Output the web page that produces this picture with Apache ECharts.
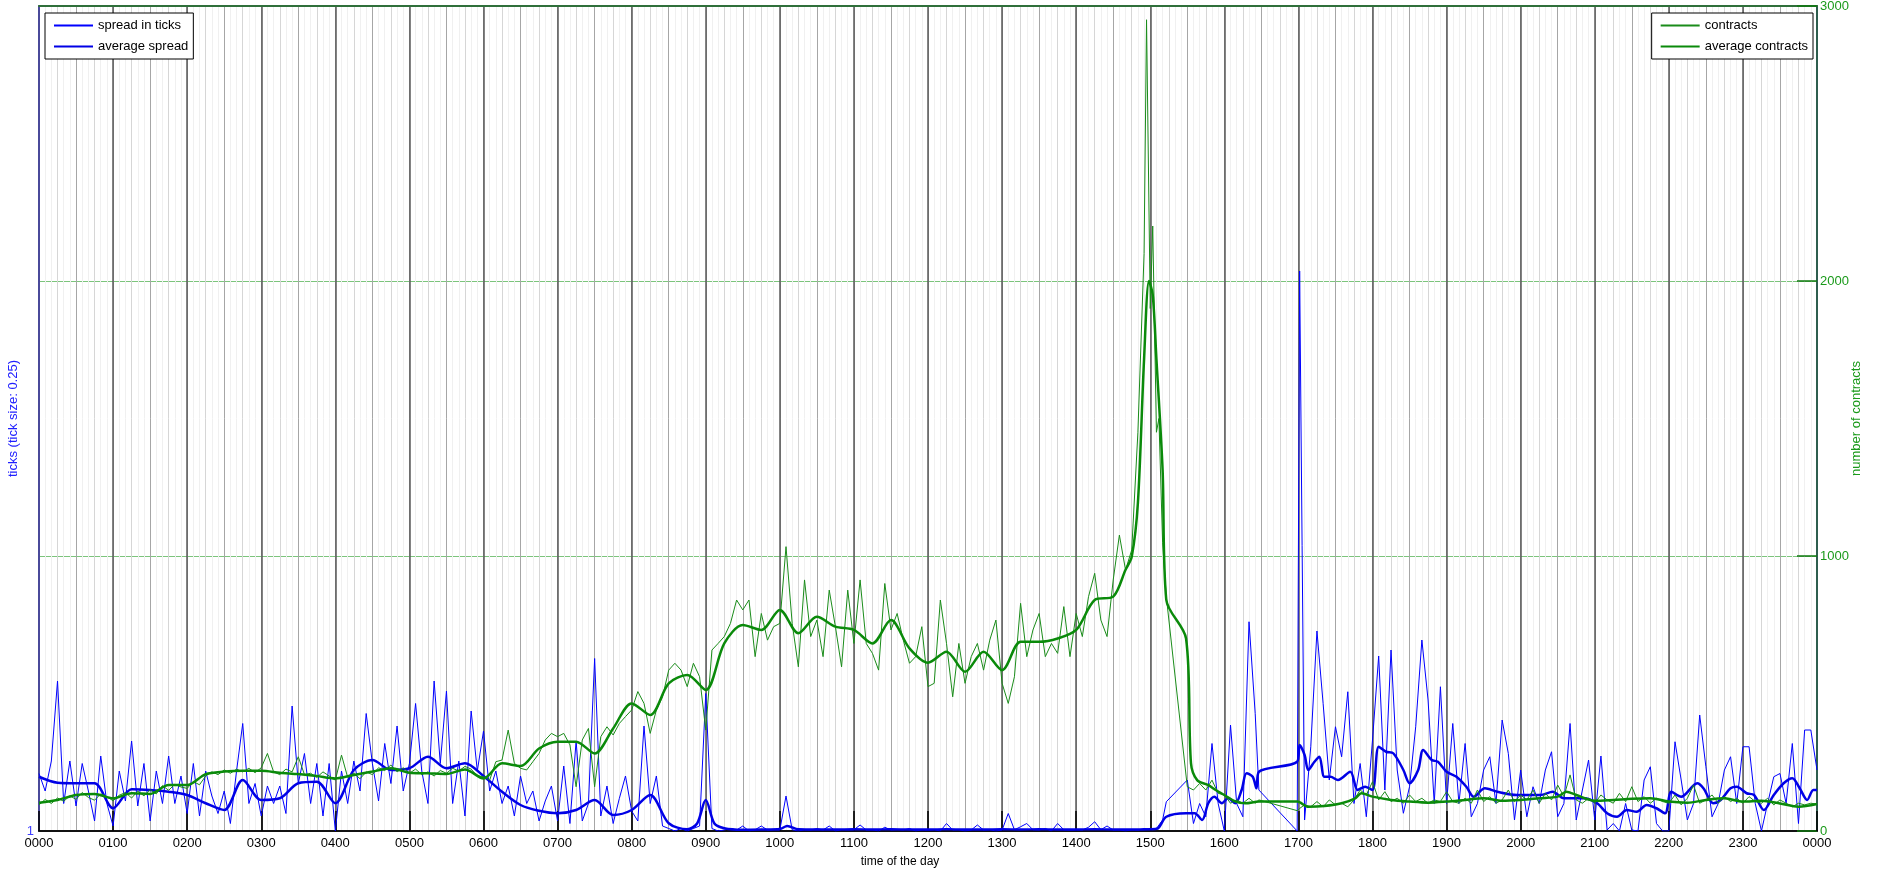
<!DOCTYPE html>
<html>
<head>
<meta charset="utf-8">
<title>spread and contracts over the day</title>
<script src="https://cdn.jsdelivr.net/npm/echarts@6/dist/echarts.min.js"></script>
<style>
  html, body { margin: 0; padding: 0; background: #fff; }
  #chart { width: 1877px; height: 874px; }
</style>
</head>
<body>
<div id="chart"></div>
<script>
// time axis runs in minutes after midnight, one label per hour
const hourLabels = ['0000', '0100', '0200', '0300', '0400', '0500', '0600', '0700', '0800', '0900',
  '1000', '1100', '1200', '1300', '1400', '1500', '1600', '1700', '1800', '1900',
  '2000', '2100', '2200', '2300', '0000'];

// spread in ticks, one row per hour, one value every 5 minutes (null = no data)
const spreadRows = [
  [3.3, 2.6, 3.8, 7.0, 2.1, 3.8, 2.0, 3.7, 2.6, 1.4, 4.0, 2.1],
  [1.2, 3.4, 2.2, 4.6, 2.0, 3.7, 1.4, 3.4, 2.1, 4.0, 2.1, 3.2],
  [1.7, 3.7, 1.6, 3.4, 2.4, 1.7, 2.6, 1.3, 3.4, 5.3, 2.1, 2.9],
  [1.6, 2.8, 2.1, 2.8, 1.7, 6.0, 2.9, 4.1, 2.1, 3.7, 1.6, 3.7],
  [1.0, 3.4, 2.1, 3.8, 2.6, 5.7, 3.7, 2.2, 4.5, 2.9, 5.2, 2.6],
  [3.7, 6.1, 3.4, 2.1, 7.0, 3.7, 6.6, 2.1, 3.8, 1.6, 5.8, 3.4],
  [5.0, 2.6, 3.4, 2.1, 2.8, 1.6, 3.2, 2.1, 2.6, 1.4, 2.2, 2.8],
  [1.4, 3.6, 1.3, 4.6, 1.4, 2.1, 7.9, 1.6, 2.8, 1.3, 2.3, 3.2],
  [1.8, 1.4, 5.2, 2.1, 3.2, 1.2, 1.1, 1.0, 1.1, 1.0, 1.1, 1.2],
  [6.5, 1.1, 1.0, 1.04, 1.1, 1.04, 1.2, 1.0, 1.05, 1.2, 1.04, 1.05],
  [1.04, 2.4, 1.05, 1.0, 1.05, 1.04, 1.1, 1.04, 1.2, 1.0, 1.05, 1.04],
  [1.05, 1.24, 1.04, 1.05, 1.0, 1.15, 1.04, 1.05, 1.04, 1.1, 1.0, 1.05],
  [1.04, 1.05, 1.0, 1.3, 1.04, 1.05, 1.0, 1.04, 1.24, 1.04, 1.05, 1.0],
  [1.04, 1.7, 1.05, 1.17, 1.3, 1.05, 1.04, 1.1, 1.0, 1.3, 1.05, 1.04],
  [1.05, 1.04, 1.15, 1.37, 1.05, 1.2, 1.04, 1.05, 1.0, 1.05, 1.04, 1.1],
  [1.07, 1.1, 1.44, null, null, null, 3.04, 1.3, 2.1, 1.57, 4.5, 2.1],
  [1.0, 5.24, 2.1, 1.57, 9.37, 5.7, null, null, null, null, null, null],
  [null, 1.44, 4.37, 9.0, 6.1, 3.04, 5.17, 3.97, 6.57, 2.1, 3.7, 1.57],
  [4.64, 8.0, 2.64, 8.24, 3.44, 1.71, 2.77, 5.17, 8.64, 6.24, 2.1, 6.77],
  [2.1, 5.3, 2.1, 4.5, 1.57, 2.1, 3.44, 3.97, 2.1, 5.44, 4.1, 1.44],
  [3.44, 1.57, 2.77, 2.1, 3.44, 4.17, 1.57, 2.1, 5.3, 1.44, 2.64, 3.84],
  [1.44, 4.0, 1.04, 1.3, 1.0, 2.1, 1.04, 1.0, 3.04, 3.57, 1.3, 1.0],
  [1.0, 4.57, 3.04, 1.44, 2.1, 5.64, 3.57, 1.57, 2.1, 3.44, 3.97, 2.1],
  [4.37, 4.37, 2.1, 1.0, 2.1, 3.17, 3.3, 2.1, 4.5, 1.3, 5.04, 5.04]
];
// readings that fall between the 5-minute slots: [minute, ticks]
const spreadExtra = [[913, 2.17], [988, 2.64], [1019, 1.0], [1021, 23.4], [1440, 3.44]];

// traded contracts, same layout
const contractRows = [
  [95, 115, 100, 120, 108, 128, 115, 140, 122, 112, 135, 125],
  [110, 130, 140, 120, 145, 128, 150, 135, 165, 148, 170, 160],
  [155, 180, 168, 200, 215, 205, 222, 210, 225, 215, 228, 212],
  [230, 282, 215, 205, 225, 215, 270, 205, 210, 195, 215, 200],
  [185, 276, 195, 210, 190, 215, 205, 230, 220, 240, 215, 230],
  [210, 225, 205, 215, 200, 220, 210, 228, 218, 235, 225, 200],
  [198, 185, 252, 258, 367, 246, 228, 222, 252, 282, 331, 355],
  [343, 355, 313, 161, 331, 373, 161, 343, 379, 349, 391, 416],
  [440, 507, 464, 355, 440, 488, 585, 610, 585, 525, 610, 561],
  [367, 658, 682, 707, 755, 840, 804, 840, 634, 791, 694, 743],
  [755, 1034, 755, 597, 913, 707, 767, 634, 876, 743, 597, 876],
  [682, 913, 682, 646, 585, 900, 731, 791, 694, 610, 634, 743],
  [525, 537, 840, 682, 488, 682, 537, 634, 682, 585, 694, 767],
  [537, 464, 561, 828, 634, 731, 791, 634, 682, 646, 816, 634],
  [791, 707, 852, 937, 767, 707, 913, 1076, 949, 1022, 1450, 2100],
  [1900, 1450, 1050, null, null, null, 161, 149, 173, 149, 185, 137],
  [131, 101, 113, 101, 119, 101, null, null, null, null, null, null],
  [null, 95, 88, 107, 88, 113, 95, 101, 88, 113, 149, 131],
  [179, 113, 143, 107, 119, 101, 131, 107, 119, 101, 113, 107],
  [143, 107, 101, 119, 101, 149, 107, 125, 101, 113, 149, 107],
  [131, 113, 149, 101, 137, 113, 167, 125, 204, 113, 101, 119],
  [101, 131, 113, 101, 137, 107, 161, 107, 125, 101, 119, 107],
  [101, 131, 95, 119, 167, 101, 113, 131, 101, 125, 107, 119],
  [101, 125, 107, 101, 119, 95, 113, 101, 88, 101, 95, 101]
];
const contractExtra = [[897, 2950], [902, 2200], [907, 1500], [913, 852], [988, 113], [1019, 74], [1021, 82], [1440, 98]];

// moving averages
const avgSpreadMinutes = [0, 15, 30, 45, 60, 75, 90, 105, 120, 135, 150, 165, 180, 195, 210, 225, 240, 255, 270, 285,
  300, 315, 330, 345, 360, 375, 390, 405, 420, 435, 450, 465, 480, 495, 510, 525, 533, 540, 547, 555,
  570, 585, 600, 606, 615, 630, 645, 660, 675, 690, 705, 720, 735, 750, 765, 780, 795, 810, 825, 840,
  855, 870, 885, 900, 906, 913, 929, 936, 942, 947, 952, 958, 963, 969, 974, 978, 983, 986, 988, 1019,
  1021, 1025, 1028, 1033, 1037, 1041, 1046, 1052, 1062, 1068, 1074, 1080, 1085, 1091, 1097, 1105, 1110, 1117, 1121, 1128,
  1133, 1140, 1148, 1156, 1162, 1171, 1181, 1197, 1216, 1226, 1235, 1251, 1262, 1270, 1278, 1286, 1294, 1302, 1310, 1317,
  1322, 1330, 1343, 1348, 1356, 1362, 1370, 1375, 1383, 1389, 1397, 1405, 1413, 1420, 1426, 1432, 1437, 1440];
const avgSpread = [3.17, 2.93, 2.91, 2.91, 1.91, 2.67, 2.64, 2.57, 2.44, 2.11, 1.84, 3.04, 2.24, 2.31, 2.91, 2.97, 2.11, 3.44, 3.84, 3.44,
  3.51, 3.97, 3.51, 3.71, 3.2, 2.57, 2.04, 1.81, 1.71, 1.84, 2.24, 1.64, 1.84, 2.44, 1.31, 1.07, 1.3, 2.24, 1.3, 1.11,
  1.05, 1.06, 1.08, 1.2, 1.07, 1.06, 1.06, 1.07, 1.06, 1.07, 1.06, 1.06, 1.07, 1.06, 1.06, 1.07, 1.06, 1.07, 1.06, 1.06,
  1.07, 1.06, 1.06, 1.07, 1.1, 1.57, 1.71, 1.71, 1.44, 2.11, 2.37, 2.11, 2.31, 2.11, 2.64, 3.31, 3.17, 2.71, 3.37, 3.77,
  4.44, 4.04, 3.44, 3.77, 3.97, 3.17, 3.17, 3.04, 3.37, 2.64, 2.77, 2.64, 4.37, 4.17, 4.1, 3.44, 2.91, 3.44, 4.24, 3.84,
  3.77, 3.37, 3.17, 2.77, 2.37, 2.71, 2.57, 2.44, 2.44, 2.57, 2.31, 2.31, 2.11, 1.71, 1.57, 1.84, 1.77, 2.04, 1.91, 1.71,
  2.57, 2.37, 2.91, 2.71, 2.11, 2.24, 2.71, 2.77, 2.51, 2.44, 1.84, 2.44, 2.91, 3.11, 2.71, 2.24, 2.64, 2.64];

const avgContractMinutes = [0, 15, 30, 45, 60, 75, 90, 105, 120, 135, 150, 165, 180, 195, 210, 225, 240, 255, 270, 285,
  300, 315, 330, 345, 360, 375, 390, 405, 420, 435, 450, 465, 480, 495, 510, 525, 540, 555, 570, 585,
  600, 615, 630, 645, 660, 675, 690, 705, 720, 735, 750, 765, 780, 795, 810, 825, 840, 855, 870, 880,
  885, 890, 895, 899, 902, 905, 910, 913, 929, 933, 938, 947, 953, 960, 969, 977, 988, 1019, 1028, 1041,
  1055, 1066, 1071, 1080, 1095, 1110, 1125, 1140, 1155, 1170, 1185, 1200, 1215, 1230, 1237, 1245, 1260, 1275, 1290, 1305,
  1320, 1335, 1350, 1365, 1380, 1395, 1410, 1425, 1440];
const avgContracts = [103, 113, 131, 135, 119, 137, 135, 167, 167, 207, 216, 219, 219, 212, 207, 200, 191, 204, 216, 228,
  212, 210, 207, 224, 191, 246, 236, 300, 325, 325, 282, 373, 464, 422, 537, 567, 513, 682, 749, 731,
  804, 719, 779, 743, 731, 682, 767, 664, 612, 652, 579, 652, 585, 688, 688, 700, 731, 840, 852, 950,
  997, 1193, 1716, 2000, 1950, 1716, 1313, 840, 700, 246, 185, 167, 149, 131, 107, 101, 107, 107, 88, 91,
  101, 119, 137, 125, 113, 107, 103, 107, 113, 119, 110, 113, 119, 125, 143, 131, 110, 113, 117, 119,
  107, 103, 113, 119, 107, 110, 100, 88, 98];

function rowsToPairs(rows, extra) {
  const pts = [];
  rows.forEach((row, h) => row.forEach((v, i) => {
    if (v !== null) pts.push([h * 60 + i * 5, v]);
  }));
  extra.forEach(p => pts.push(p));
  return pts.sort((a, b) => a[0] - b[0]);
}
const zip = (xs, ys) => xs.map((x, i) => [x, ys[i]]);

const FONT = 'Liberation Sans, Arial, Helvetica, sans-serif';
const BLUE = '#0000ff';
const GREEN = '#0a8a0a';

// hidden axes that only draw the vertical grid (5, 15, 30 minutes)
const gridAxis = (step, color, extra) => Object.assign({
  type: 'value', min: 0, max: 1440, interval: step,
  axisLine: {show: false, onZero: false}, axisTick: {show: false}, axisLabel: {show: false},
  splitLine: {show: true, lineStyle: {color: color, width: 1}}
}, extra || {});

const legendBox = {
  orient: 'vertical', top: 13,
  itemWidth: 39, itemHeight: 14, itemGap: 8,
  padding: [6, 5, 6, 8],
  borderColor: '#000', borderWidth: 1, backgroundColor: '#fff',
  itemStyle: {opacity: 0},
  textStyle: {fontFamily: FONT, fontSize: 13, color: '#000'}
};

const option = {
  animation: false,
  backgroundColor: '#fff',
  textStyle: {fontFamily: FONT},
  grid: {left: 39, right: 60, top: 6, bottom: 43, outerBoundsMode: 'none'},
  legend: [
    Object.assign({data: ['spread in ticks', 'average spread'], left: 45}, legendBox),
    Object.assign({data: ['contracts', 'average contracts'], right: 64}, legendBox)
  ],
  xAxis: [
    gridAxis(5, '#f0f0f0', {position: 'top', axisLine: {show: true, onZero: false, lineStyle: {color: '#2f6f3a', width: 2}}}),
    gridAxis(15, '#d6d6d6'),
    gridAxis(30, '#a6a6a6'),
    {
      type: 'value', min: 0, max: 1440, interval: 60, position: 'bottom',
      name: 'time of the day', nameLocation: 'middle', nameGap: 25, nameMoveOverlap: false,
      nameTextStyle: {fontFamily: FONT, fontSize: 12, color: '#000', padding: [0, 56, 0, 0]},
      axisLine: {show: true, onZero: false, lineStyle: {color: '#111', width: 2}},
      axisTick: {show: true, inside: true, length: 20, lineStyle: {color: '#000', width: 1.5}},
      axisLabel: {
        show: true, margin: 6, color: '#000', fontFamily: FONT, fontSize: 13,
        formatter: v => hourLabels[Math.round(v / 60)]
      },
      splitLine: {show: true, lineStyle: {color: '#5a5a5a', width: 1.5}}
    }
  ],
  yAxis: [
    {
      type: 'value', min: 1, max: 34, interval: 33, position: 'left',
      name: 'ticks (tick size: 0.25)', nameLocation: 'middle', nameGap: 19, nameRotate: 90,
      nameMoveOverlap: false,
      nameTextStyle: {fontFamily: FONT, fontSize: 13, color: '#2020ff'},
      axisLine: {show: true, onZero: false, lineStyle: {color: '#4a4a9a', width: 2}},
      axisTick: {show: false},
      axisLabel: {color: '#4040ff', fontFamily: FONT, fontSize: 13, margin: 5,
        formatter: v => (v === 1 ? '1' : '')},
      splitLine: {show: false}
    },
    {
      type: 'value', min: 0, max: 3000, interval: 1000, position: 'right',
      name: 'number of contracts', nameLocation: 'middle', nameGap: 33, nameRotate: 90,
      nameMoveOverlap: false,
      nameTextStyle: {fontFamily: FONT, fontSize: 13, color: '#1a9a1a'},
      axisLine: {show: true, onZero: false, lineStyle: {color: '#2e5e4e', width: 2}},
      axisTick: {show: true, inside: true, length: 20, lineStyle: {color: '#117a11', width: 1.5}},
      axisLabel: {color: '#1a9a1a', fontFamily: FONT, fontSize: 13, margin: 3,
        formatter: v => String(v)},
      splitLine: {show: true, lineStyle: {color: '#7cc47c', width: 1}}
    }
  ],
  series: [
    {
      name: 'spread in ticks', type: 'line', xAxisIndex: 3, yAxisIndex: 0,
      data: rowsToPairs(spreadRows, spreadExtra),
      symbol: 'none', lineStyle: {color: BLUE, width: 1}, itemStyle: {color: BLUE}
    },
    {
      name: 'average spread', type: 'line', xAxisIndex: 3, yAxisIndex: 0,
      data: zip(avgSpreadMinutes, avgSpread), smooth: 0.3,
      symbol: 'none', lineStyle: {color: '#0000e6', width: 2.5}, itemStyle: {color: '#0000e6'}
    },
    {
      name: 'contracts', type: 'line', xAxisIndex: 3, yAxisIndex: 1,
      data: rowsToPairs(contractRows, contractExtra),
      symbol: 'none', lineStyle: {color: '#1a8c1a', width: 1}, itemStyle: {color: '#1a8c1a'}
    },
    {
      name: 'average contracts', type: 'line', xAxisIndex: 3, yAxisIndex: 1,
      data: zip(avgContractMinutes, avgContracts), smooth: 0.3,
      symbol: 'none', lineStyle: {color: GREEN, width: 2.5}, itemStyle: {color: GREEN}
    }
  ]
};

const chart = echarts.init(document.getElementById('chart'));
chart.setOption(option);
</script>
</body>
</html>
